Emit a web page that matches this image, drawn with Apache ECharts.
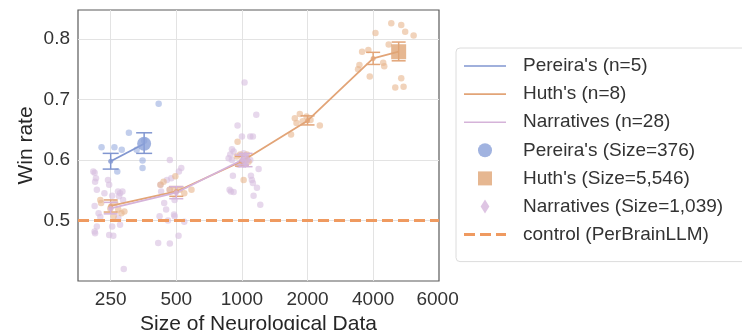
<!DOCTYPE html>
<html><head><meta charset="utf-8">
<script src="https://cdn.jsdelivr.net/npm/echarts@6/dist/echarts.min.js"></script>
<style>html,body{margin:0;padding:0;background:#fff}#c{width:742px;height:330px}</style>
</head><body><div id="c"></div>
<script>
// ---- tick labels (positions on the log axis and their texts) ----
const xTickPositions = [250, 500, 1000, 2000, 4000, 7900];
const xTickLabels = ['250', '500', '1000', '2000', '4000', '6000'];
const xGridTicks = [250, 500, 1000, 2000, 4000];
const yTickLabels = [0.5, 0.6, 0.7, 0.8];
const xRange = [177, 8020];
const yRange = [0.4, 0.848];

// ---- mean lines (size, win rate, error low, error high) ----
const pereiraX = [250, 356];
const pereiraMean = [0.598, 0.627];
const pereiraLo = [0.585, 0.611];
const pereiraHi = [0.611, 0.645];

const huthX = [250, 500, 1000, 2000, 4000, 5237];
const huthMean = [0.524, 0.548, 0.598, 0.665, 0.768, 0.779];
const huthLo = [0.514, 0.540, 0.590, 0.658, 0.758, 0.764];
const huthHi = [0.534, 0.556, 0.606, 0.673, 0.778, 0.795];

const narrX = [250, 500, 1000, 1039];
const narrMean = [0.520, 0.546, 0.600, 0.600];
const narrLo = [0.511, 0.536, 0.592, 0.589];
const narrHi = [0.530, 0.556, 0.608, 0.611];

const controlValue = 0.5;

// ---- individual subject points [size, win rate] ----
const pereiraDots = [[227,0.621],[260,0.621],[281,0.617],[268,0.581],[303,0.645],[329,0.617],[350,0.599],[350,0.587],[415,0.693],[356,0.632]];
const huthDots = [
  [224,0.534],[226,0.529],[249,0.520],[262,0.529],[271,0.518],[280,0.512],[289,0.515],[258,0.507],
  [423,0.559],[466,0.551],[491,0.551],[518,0.551],[544,0.545],[587,0.551],[495,0.573],[437,0.564],
  [955,0.630],[1018,0.567],[948,0.606],[1054,0.609],[1036,0.600],[982,0.609],[1073,0.597],[1000,0.597],
  [1843,0.676],[1749,0.669],[1780,0.661],[1979,0.672],[2064,0.666],[2277,0.657],[1680,0.642],[1900,0.664],
  [3411,0.750],[3460,0.757],[3559,0.779],[3802,0.782],[3860,0.738],[4099,0.810],[4447,0.761],[4497,0.755],
  [4713,0.791],[4844,0.826],[5053,0.720],[5382,0.823],[5516,0.721],[5611,0.812],[6134,0.806],[5382,0.735]
];
const narrDots = [
  [211,0.579],[214,0.570],[212,0.564],[216,0.551],[211,0.524],[220,0.512],[224,0.506],[216,0.490],[212,0.479],
  [243,0.567],[246,0.559],[234,0.545],[254,0.541],[270,0.548],[276,0.545],[283,0.548],[273,0.540],[285,0.534],
  [271,0.504],[254,0.490],[276,0.493],[257,0.475],[287,0.420],[208,0.581],[211,0.482],[246,0.476],
  [467,0.600],[527,0.587],[514,0.581],[474,0.570],[453,0.567],[423,0.559],[426,0.548],[466,0.551],[491,0.534],
  [440,0.529],[449,0.518],[488,0.510],[458,0.500],[491,0.507],[419,0.507],[544,0.498],[512,0.475],[467,0.462],[413,0.463],
  [1164,0.675],[955,0.657],[1000,0.639],[1092,0.639],[1123,0.639],[900,0.618],[916,0.614],[884,0.609],[869,0.603],
  [900,0.600],[1018,0.611],[1092,0.600],[965,0.592],[1018,0.592],[1193,0.585],[909,0.574],[1100,0.574],[1111,0.567],
  [1123,0.562],[1172,0.554],[878,0.551],[890,0.548],[916,0.547],[1131,0.541],[1214,0.526],[1028,0.728]
];

// ---- legend names ----
const legendNames = ["Pereira's (n=5)", "Huth's (n=8)", "Narratives (n=28)",
  "Pereira's (Size=376)", "Huth's (Size=5,546)", "Narratives (Size=1,039)", "control (PerBrainLLM)"];

const C = {blue:'#8196d0', orange:'#e2a477', purple:'#d5b3d9', control:'#ef9a60',
  blueDot:'#9aaee0', orangeDot:'#e8b68e', purpleDot:'#d7bee0', blueMk:'#8aa0d8', orangeMk:'#e0a576', purpleMk:'#d6b6dc'};
const FONT = 'Liberation Sans, Arial, sans-serif';

const lx = v => Math.log2(v);
const pts = (xs, ys) => xs.map((x, i) => [lx(x), ys[i]]);
const dots = arr => arr.map(d => [lx(d[0]), d[1]]);

function errSeries(id, xs, lo, hi, color, capHalf, z) {
  return {
    type: 'custom', id, silent: true, z,
    data: xs.map((x, i) => [lx(x), lo[i], hi[i]]),
    encode: {x: 0, y: [1, 2]},
    renderItem: (params, api) => {
      const a = api.coord([api.value(0), api.value(1)]);
      const b = api.coord([api.value(0), api.value(2)]);
      const st = {stroke: color, lineWidth: 1.5, fill: null};
      return {type: 'group', children: [
        {type: 'line', shape: {x1: a[0], y1: a[1], x2: b[0], y2: b[1]}, style: st},
        {type: 'line', shape: {x1: a[0] - capHalf, y1: a[1], x2: a[0] + capHalf, y2: a[1]}, style: st},
        {type: 'line', shape: {x1: b[0] - capHalf, y1: b[1], x2: b[0] + capHalf, y2: b[1]}, style: st}
      ]};
    }
  };
}

function dotSeries(id, data, color) {
  return {type: 'scatter', id, silent: true, z: 1, symbol: 'circle', symbolSize: 6.5,
    itemStyle: {color, opacity: 0.6}, data: dots(data)};
}
function meanDots(id, xs, ys, color) {
  return {type: 'scatter', id, silent: true, z: 4, symbol: 'circle', symbolSize: 5,
    itemStyle: {color}, data: pts(xs.slice(0, -1), ys.slice(0, -1))};
}
function lineSeries(name, xs, ys, color) {
  return {type: 'line', name, data: pts(xs, ys), symbol: 'none', z: 3, silent: true,
    lineStyle: {color, width: 1.8}, itemStyle: {color}};
}

const lineIcon = 'path://M0,0h42v1.6h-42z';
const dashIcon = 'path://M0,0h11v3h-11z M16,0h11v3h-11z M32,0h10v3h-10z';

const chart = echarts.init(document.getElementById('c'), null, {renderer: 'canvas'});
chart.setOption({
  animation: false,
  backgroundColor: '#fff',
  grid: {left: 78, right: 303, top: 10, bottom: 49, outerBoundsMode: 'none', containLabel: false,
    show: true, borderColor: '#5a5a5a', borderWidth: 1.2, backgroundColor: '#fff'},
  xAxis: {
    type: 'value', min: lx(xRange[0]), max: lx(xRange[1]),
    name: 'Size of Neurological Data', nameLocation: 'middle', nameGap: 27,
    nameTextStyle: {fontSize: 21, fontFamily: FONT, color: '#262626'},
    axisLine: {show: false}, axisTick: {show: false, customValues: xGridTicks.map(lx)},
    axisLabel: {customValues: xTickPositions.map(lx),
      formatter: v => {
        let best = 0;
        xTickPositions.forEach((p, i) => { if (Math.abs(lx(p) - v) < Math.abs(lx(xTickPositions[best]) - v)) best = i; });
        return xTickLabels[best];
      },
      fontSize: 19, fontFamily: FONT, color: '#333', margin: 9, hideOverlap: false},
    splitLine: {show: true, lineStyle: {color: '#e3e3e3', width: 1}}
  },
  yAxis: {
    type: 'value', min: yRange[0], max: yRange[1],
    name: 'Win rate', nameLocation: 'middle', nameGap: 41,
    nameTextStyle: {fontSize: 21, fontFamily: FONT, color: '#262626'},
    axisLine: {show: false}, axisTick: {show: false, customValues: yTickLabels},
    axisLabel: {customValues: yTickLabels, formatter: v => v.toFixed(1),
      fontSize: 19, fontFamily: FONT, color: '#333', margin: 8},
    splitLine: {show: true, lineStyle: {color: '#e3e3e3', width: 1}}
  },
  legend: {
    orient: 'vertical', left: 456, top: 48,
    padding: [8.5, 60, 17.5, 8], itemWidth: 42, itemHeight: 14, itemGap: 9.1,
    borderColor: '#dcdcdc', borderWidth: 1, borderRadius: 4, backgroundColor: '#fff',
    textStyle: {fontSize: 19, fontFamily: FONT, color: '#333', lineHeight: 19, padding: [0, 0, 0, 12]},
    selectedMode: false,
    data: [
      {name: legendNames[0], icon: lineIcon}, {name: legendNames[1], icon: lineIcon}, {name: legendNames[2], icon: lineIcon},
      {name: legendNames[3], icon: 'circle'}, {name: legendNames[4], icon: 'path://M0,0h10v10h-10z'},
      {name: legendNames[5], icon: 'path://M5,0 L10,8 L5,16 L0,8 Z'},
      {name: legendNames[6], icon: dashIcon}
    ]
  },
  series: [
    dotSeries('narrDots', narrDots, C.purpleDot),
    dotSeries('huthDots', huthDots, C.orangeDot),
    dotSeries('pereiraDots', pereiraDots, C.blueDot),
    {type: 'line', name: legendNames[6], z: 2, silent: true, symbol: 'none',
      data: [[lx(xRange[0]), controlValue], [lx(xRange[1]), controlValue]],
      lineStyle: {color: C.control, width: 2.8, type: [11, 5]}, itemStyle: {color: C.control}},
    lineSeries(legendNames[1], huthX, huthMean, C.orange),
    lineSeries(legendNames[2], narrX, narrMean, C.purple),
    lineSeries(legendNames[0], pereiraX, pereiraMean, C.blue),
    errSeries('huthErr', huthX, huthLo, huthHi, C.orange, 7, 3),
    errSeries('narrErr', narrX, narrLo, narrHi, C.purple, 7, 3),
    errSeries('pereiraErr', pereiraX, pereiraLo, pereiraHi, C.blue, 8, 3),
    meanDots('huthMeanDots', huthX, huthMean, C.orange),
    meanDots('narrMeanDots', narrX, narrMean, C.purple),
    meanDots('pereiraMeanDots', pereiraX, pereiraMean, C.blue),
    {type: 'scatter', name: legendNames[3], z: 5, silent: true, symbol: 'circle', symbolSize: 14,
      itemStyle: {color: C.blueMk}, data: [[lx(pereiraX[1]), pereiraMean[1]]]},
    {type: 'scatter', name: legendNames[4], z: 5, silent: true, symbol: 'rect', symbolSize: 15,
      itemStyle: {color: C.orangeMk}, data: [[lx(huthX[5]), huthMean[5]]]},
    {type: 'scatter', name: legendNames[5], z: 5, silent: true, symbol: 'diamond', symbolSize: [11, 16],
      itemStyle: {color: C.purpleMk}, data: [[lx(narrX[3]), narrMean[3]]]}
  ]
});
</script></body></html>
